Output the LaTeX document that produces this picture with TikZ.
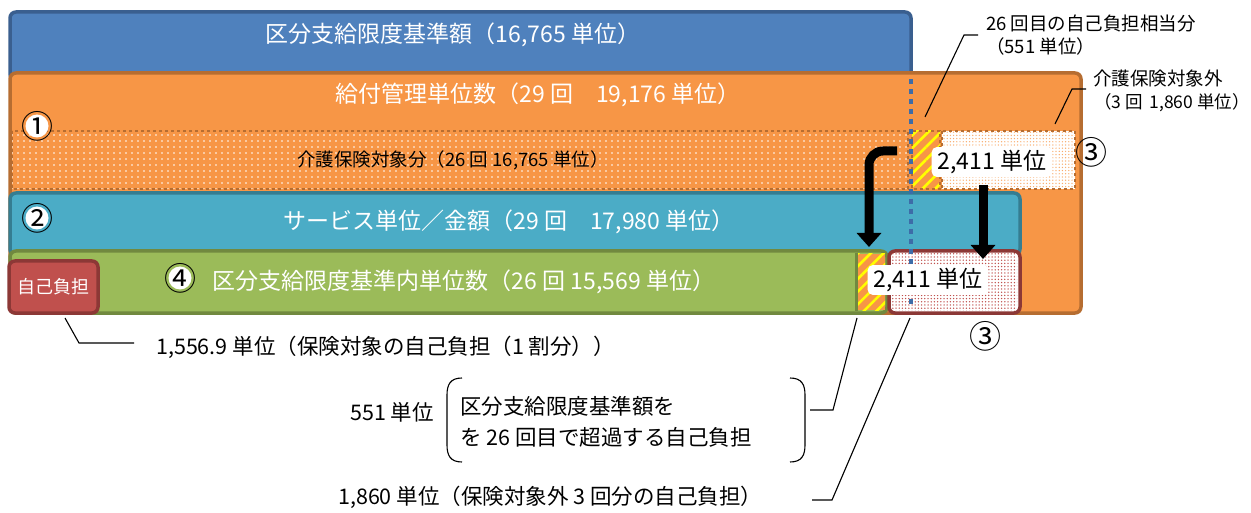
\documentclass[tikz,border=0pt]{standalone}
\usepackage{fontspec}
\setmainfont{Noto Sans CJK JP}
\usetikzlibrary{patterns.meta,arrows.meta}
\definecolor{bluef}{HTML}{4F81BD}
\definecolor{blued}{HTML}{3A5F8F}
\definecolor{orf}{HTML}{F79646}
\definecolor{ord}{HTML}{B66D31}
\definecolor{tealf}{HTML}{4BACC6}
\definecolor{teald}{HTML}{357D91}
\definecolor{grf}{HTML}{9BBB59}
\definecolor{grd}{HTML}{71893F}
\definecolor{redf}{HTML}{C0504D}
\definecolor{redd}{HTML}{8C3836}
\definecolor{vline}{HTML}{3D6CA8}
\begin{document}
\begin{tikzpicture}[x=1pt,y=-1pt,
  box/.style={line width=3.5pt, rounded corners=6pt},
  wt/.style={text=white, inner sep=0pt, font=\fontsize{23}{27}\selectfont},
  bk/.style={text=black, inner sep=0pt, font=\fontsize{21.5}{25}\selectfont},
  sm/.style={text=black, inner sep=0pt, font=\fontsize{18.5}{22}\selectfont},
  lead/.style={line width=1.1pt, black},
  num/.style={inner sep=0pt, font=\fontsize{32}{34}\selectfont},
  numbg/.style={fill=white},
  lab/.style={fill=white, rounded corners=5pt, inner xsep=6pt, inner ysep=3pt, font=\fontsize{23}{26}\selectfont},
  bigarrow/.style={line width=9pt, -{Triangle[width=24pt,length=14pt]}},
  dashbd/.style={dashed, draw=ord, line width=1.2pt},
  hatch/.style={pattern={Lines[angle=45,distance=9pt,line width=2.6pt]}, pattern color=yellow}
]
\useasboundingbox (0,0) rectangle (1251,513);
% blue
\draw[box, fill=bluef, draw=blued] (10,12) rectangle (911,80);
\node[wt] (t1) at (453,35) {区分支給限度基準額（16,765 単位）};
% orange
\draw[box, fill=orf, draw=ord] (10,73) rectangle (1081,313);
\node[wt] (t2) at (538,95) {給付管理単位数（29 回　19,176 単位）};
% insured portion (dotted)
\fill[pattern={Dots[distance=6pt,radius=0.9pt]}, pattern color=white] (12,131) rectangle (908,189);
\draw[dashbd] (12,131) rectangle (908,189);
\node[sm] (t3) at (453,160) {介護保険対象分（26 回 16,765 単位）};
% hatch 26th
\fill[hatch] (912,131) rectangle (940,189);
\draw[dashbd] (912,131) rectangle (940,189);
% non-insured
\fill[white] (942,131) rectangle (1075,189);
\fill[pattern={Dots[distance=3.2pt,radius=0.7pt]}, pattern color=orf!80] (942,131) rectangle (1075,189);
\draw[dashbd] (942,131) rectangle (1075,189);
% teal
\draw[box, fill=tealf, draw=teald] (10,193) rectangle (1020,255);
\node[wt] (t4) at (509,222) {サービス単位／金額（29 回　17,980 単位）};
% green
\draw[box, fill=grf, draw=grd] (10,251) rectangle (887,313);
\fill[orf] (857,254) rectangle (885,310);
\fill[hatch] (857,254) rectangle (885,310);
\draw[grd, line width=3pt] (856,253) -- (856,311);
\node[wt] (t5) at (464,282) {区分支給限度基準内単位数（26 回 15,569 単位）};
% red dotted
\draw[box, fill=white, draw=redd] (889,251) rectangle (1020,313);
\fill[pattern={Dots[distance=3.2pt,radius=0.75pt]}, pattern color=redf] (892,254) rectangle (1017,310);
% self pay
\draw[box, fill=redf, draw=redd] (9,261) rectangle (98,313);
\node[text=white, inner sep=0pt, font=\fontsize{18}{21}\selectfont] (sp) at (53,287) {自己負担};
% vertical dotted line
\draw[vline, line width=3.5pt, dash pattern=on 5pt off 5pt] (911,79) -- (911,307);
% labels
\node[lab] (l1) at (992,162) {2,411 単位};
\node[lab] (l2) at (928,280) {2,411 単位};
% arrows
\draw[bigarrow, rounded corners=14pt] (897,151) -| (869,247);
\draw[bigarrow] (983,185) -- (983,259);
% circled numbers
\fill[numbg] (37,126) circle[radius=11.5];
\node[num] (n1) at (37,126) {①};
\fill[numbg] (37,218) circle[radius=11.5];
\node[num] (n2) at (37,218) {②};
\fill[numbg] (180,278) circle[radius=11.5];
\node[num] (n4) at (180,278) {④};
\node[num] (n3a) at (1091,152) {③};
\node[num] (n3b) at (985,336) {③};
% top callouts
\node[sm, anchor=west] (c1) at (986,24) {26 回目の自己負担相当分};
\node[sm, anchor=west] (c1b) at (986,46) {（551 単位）};
\coordinate (c1p) at (925,117);
\coordinate (c1k) at (964,35);
\coordinate (c1e) at (978,35);
\draw[lead] (c1p) -- (c1k) -- (c1e);
\node[sm, anchor=west] (c2) at (1093,78) {介護保険対象外};
\node[sm, anchor=east, font=\fontsize{17.5}{21}\selectfont] (c2b) at (1250,103) {（3 回\hspace{0.4em}1,860 単位）};
\coordinate (c2p) at (1055,124);
\coordinate (c2k) at (1072,89);
\coordinate (c2e) at (1086,89);
\draw[lead] (c2p) -- (c2k) -- (c2e);
% bottom callouts
\node[bk, anchor=west] (b1) at (156,347) {1,556.9 単位（保険対象の自己負担（1 割分））};
\coordinate (b1p) at (65,318);
\coordinate (b1k) at (79,343);
\coordinate (b1e) at (134,343);
\draw[lead] (b1p) -- (b1k) -- (b1e);
\node[bk, anchor=east] (b2) at (434,412) {551 単位};
\node[bk, anchor=west] (b2a) at (460,406) {区分支給限度基準額を};
\node[bk, anchor=west] (b2b) at (460,437) {を 26 回目で超過する自己負担};
\draw[lead] (462,378) .. controls (450,378) and (447,385) .. (447,395) -- (447,445) .. controls (447,455) and (450,462) .. (462,462);
\draw[lead] (790,378) .. controls (802,378) and (805,385) .. (805,395) -- (805,445) .. controls (805,455) and (802,462) .. (790,462);
\coordinate (b2e) at (810,410);
\coordinate (b2k) at (833,410);
\coordinate (b2p) at (857,318);
\draw[lead] (b2e) -- (b2k) -- (b2p);
\node[bk, anchor=west] (b3) at (338,497) {1,860 単位（保険対象外 3 回分の自己負担）};
\coordinate (b3e) at (812,500);
\coordinate (b3k) at (832,500);
\coordinate (b3p) at (910,318);
\draw[lead] (b3e) -- (b3k) -- (b3p);
\end{tikzpicture}
\end{document}
